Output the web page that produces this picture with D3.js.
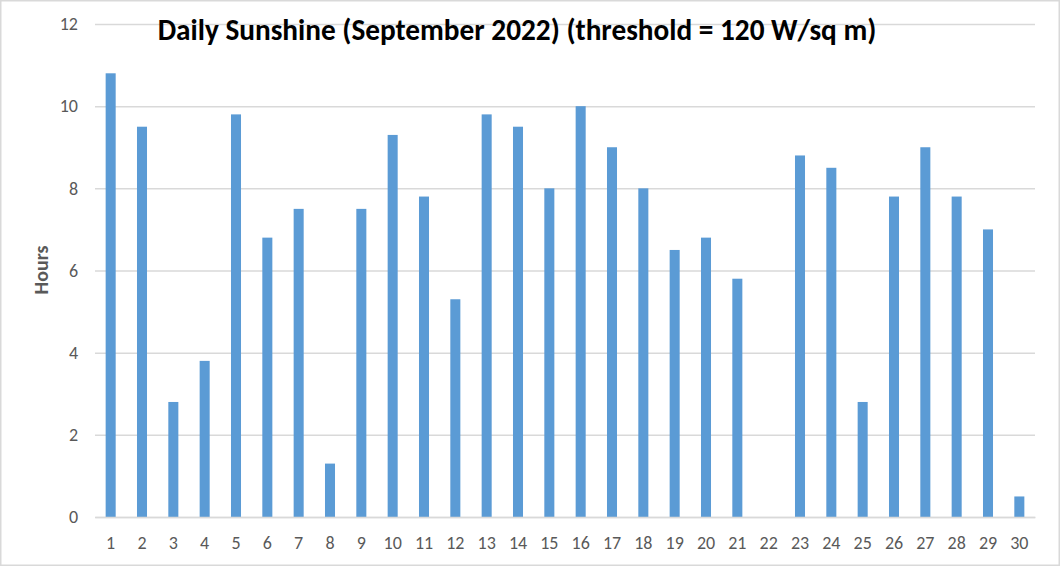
<!DOCTYPE html>
<html><head><meta charset="utf-8">
<script src="https://cdn.jsdelivr.net/npm/d3@7"></script>
<style>body{margin:0;background:#fff}svg{display:block}</style>
</head><body>
<script>
const days = d3.range(1, 31).map(String);
const hours = [10.8, 9.5, 2.8, 3.8, 9.8, 6.8, 7.5, 1.3, 7.5, 9.3, 7.8, 5.3, 9.8, 9.5, 8.0, 10.0, 9.0, 8.0, 6.5, 6.8, 5.8, 0, 8.8, 8.5, 2.8, 7.8, 9.0, 7.8, 7.0, 0.5];
const yTicks = [0, 2, 4, 6, 8, 10, 12];
const titleText = "Daily Sunshine (September 2022) (threshold = 120 W/sq m)";
const yLabel = "Hours";

const W = 1060, H = 566;
const m = {left: 95, right: 25, top: 24, bottom: 49};
const svg = d3.select("body").append("svg").attr("width", W).attr("height", H);
svg.append("rect").attr("x", 0.75).attr("y", 0.75).attr("width", W - 1.5).attr("height", H - 1.5)
  .attr("fill", "#fff").attr("stroke", "#d9d9d9").attr("stroke-width", 1.5);

const x = d3.scaleBand().domain(days).range([m.left, W - m.right]).paddingInner(0.68).paddingOuter(0.34);
const y = d3.scaleLinear().domain([0, 12]).range([H - m.bottom, m.top]);

const font = "Calibri, Carlito, 'Open Sans', 'Noto Sans', sans-serif";

// gridlines
const yAxis = d3.axisLeft(y).tickValues(yTicks).tickSize(-(W - m.left - m.right)).tickPadding(17).tickFormat(d3.format("d"));
const gy = svg.append("g").attr("transform", `translate(${m.left},0)`).call(yAxis);
gy.select(".domain").remove();
gy.selectAll(".tick line").attr("stroke", "#d9d9d9").attr("stroke-width", 1.5);
gy.selectAll(".tick text").attr("fill", "#595959").style("font-family", font).style("font-size", "18px");

// bars
svg.append("g").selectAll("rect").data(hours).join("rect")
  .attr("x", (d, i) => x(days[i]))
  .attr("y", d => y(d))
  .attr("width", x.bandwidth())
  .attr("height", d => y(0) - y(d))
  .attr("fill", "#5b9bd5");

// x axis
const xAxis = d3.axisBottom(x).tickSize(0).tickPadding(19);
const gx = svg.append("g").attr("transform", `translate(0,${H - m.bottom})`).call(xAxis);
gx.select(".domain").attr("stroke", "#d9d9d9").attr("stroke-width", 1.5);
gx.selectAll(".tick text").attr("fill", "#595959").style("font-family", font).style("font-size", "18px");

// y label
svg.append("text").attr("transform", `translate(48,270) rotate(-90)`)
  .attr("text-anchor", "middle").attr("fill", "#595959")
  .style("font-family", font).style("font-size", "20px").style("font-weight", "bold").text(yLabel);

// title
const t = svg.append("text").attr("x", 517).attr("y", 40).attr("text-anchor", "middle")
  .attr("fill", "#000").style("font-family", font).style("font-size", "22px").style("font-weight", "bold")
  .text(titleText);
const tw = t.node().getComputedTextLength();
t.style("font-size", (22 * 719 / tw).toFixed(2) + "px");
</script>
</body></html>
